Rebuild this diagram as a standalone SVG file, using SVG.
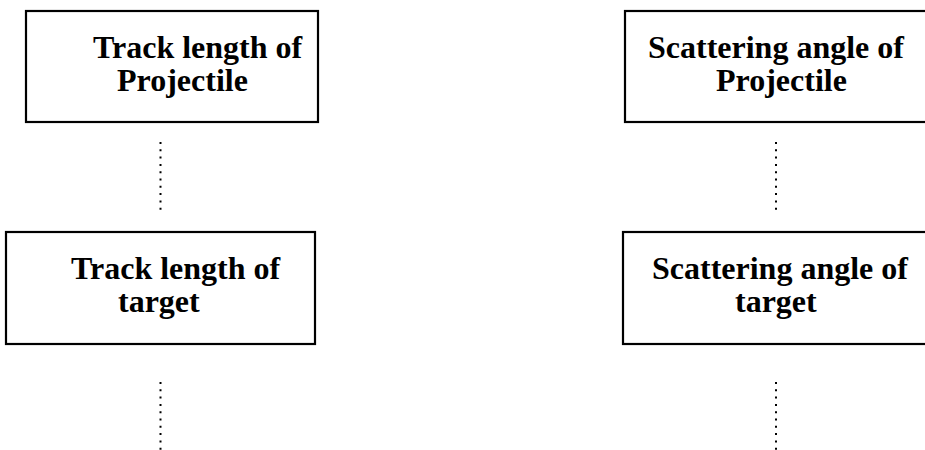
<svg xmlns="http://www.w3.org/2000/svg" width="925" height="450" viewBox="0 0 925 450">
  <style>
    .box { fill: #ffffff; stroke: #000000; stroke-width: 2.2; }
    .label { font-family: "Liberation Serif", "Times New Roman", serif; font-weight: bold; font-size: 32px; fill: #000000; }
    .dots { stroke: #000000; stroke-width: 2; stroke-dasharray: 2 5.3; fill: none; }
  </style>
  <rect width="925" height="450" fill="#ffffff"/>

  <!-- dotted links between the stacked boxes -->
  <g id="connectors">
    <line class="dots" x1="160.5" y1="142" x2="160.5" y2="210"/>
    <line class="dots" x1="160.5" y1="382" x2="160.5" y2="450"/>
    <line class="dots" x1="776" y1="142" x2="776" y2="210"/>
    <line class="dots" x1="776" y1="382" x2="776" y2="450"/>
  </g>

  <g id="track-projectile">
    <rect class="box" x="26" y="11" width="292" height="111"/>
    <text class="label" x="93" y="58">Track length of</text>
    <text class="label" x="117" y="91">Projectile</text>
  </g>

  <g id="scatter-projectile">
    <rect class="box" x="625" y="11" width="310" height="111"/>
    <text class="label" x="648" y="58">Scattering angle of</text>
    <text class="label" x="716" y="91">Projectile</text>
  </g>

  <g id="track-target">
    <rect class="box" x="6" y="232" width="309" height="112"/>
    <text class="label" x="71" y="279">Track length of</text>
    <text class="label" x="118" y="312">target</text>
  </g>

  <g id="scatter-target">
    <rect class="box" x="623" y="232" width="312" height="112"/>
    <text class="label" x="652" y="279">Scattering angle of</text>
    <text class="label" x="735" y="312">target</text>
  </g>
</svg>
